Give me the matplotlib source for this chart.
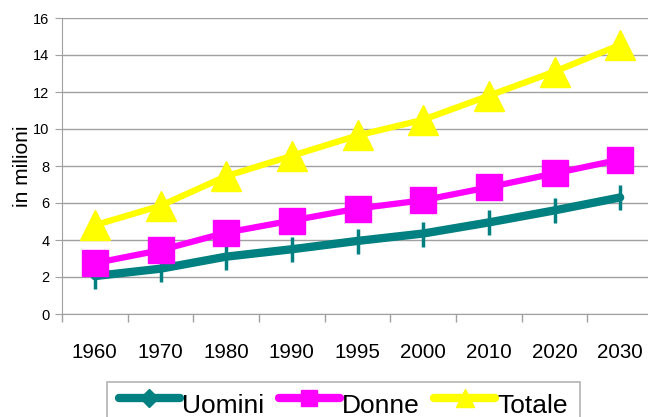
import matplotlib
matplotlib.use("Agg")
import matplotlib.pyplot as plt
from matplotlib.legend_handler import HandlerLine2D
from matplotlib.lines import Line2D
import numpy as np

plt.rcParams['font.family'] = ['Liberation Sans', 'DejaVu Sans']

years = ['1960', '1970', '1980', '1990', '1995', '2000', '2010', '2020', '2030']
uomini = [2.05, 2.45, 3.1, 3.5, 3.95, 4.35, 4.95, 5.6, 6.3]
donne = [2.75, 3.45, 4.4, 5.05, 5.7, 6.15, 6.85, 7.6, 8.35]
totale = [4.8, 5.85, 7.45, 8.55, 9.65, 10.5, 11.8, 13.1, 14.55]

teal, magenta, yellow = '#008080', '#ff00ff', '#ffff00'

fig = plt.figure(figsize=(6.48, 4.17), dpi=100)
ax = fig.add_axes([62/648, 1-314/417, 591/648, 296/417])

x = np.arange(len(years))
ax.plot(x, uomini, color=teal, lw=6, marker='|', ms=18, mew=2.5,
        zorder=3, solid_capstyle='round')
ax.plot(x, donne, color=magenta, lw=4.5, marker='s', ms=19, zorder=4)
ax.plot(x, totale, color=yellow, lw=4.5, marker='^', ms=21, zorder=5)

ax.set_xlim(-0.5, len(years)-0.5)
ax.set_ylim(0, 16)
ax.set_yticks(range(0, 17, 2))
ax.set_xticks(x)
ax.set_xticklabels(years, fontsize=14.8)
ax.set_xticks(np.arange(-0.5, len(years), 1), minor=True)
ax.tick_params(axis='x', which='major', length=0, pad=21)
ax.tick_params(axis='x', which='minor', length=6, color='#a0a0a0', width=1)
ax.tick_params(axis='y', length=5, color='#a0a0a0', labelsize=10.5, pad=4)
ax.grid(axis='y', color='#a0a0a0', lw=1)
ax.set_axisbelow(True)
for s in ['top', 'right']:
    ax.spines[s].set_visible(False)
for s in ['left', 'bottom']:
    ax.spines[s].set_color('#a0a0a0')
ax.set_ylabel('in milioni', fontsize=15, labelpad=1)


class RaisedHandler(HandlerLine2D):
    def create_artists(self, legend, orig_handle, xdescent, ydescent,
                       width, height, fontsize, trans):
        return super().create_artists(legend, orig_handle, xdescent,
                                      ydescent - 8, width, height,
                                      fontsize, trans)


handles = [
    Line2D([], [], color=teal, lw=6, marker='D', ms=9, solid_capstyle='round'),
    Line2D([], [], color=magenta, lw=6, marker='s', ms=12, solid_capstyle='round'),
    Line2D([], [], color=yellow, lw=6, marker='^', ms=13, solid_capstyle='round'),
]
labels = ['Uomini', 'Donne', 'Totale']
h = RaisedHandler(numpoints=1)
leg = fig.legend(handles, labels, loc='upper left',
                 bbox_to_anchor=(107/648, 1-382/417), ncol=3,
                 fontsize=19, frameon=True, fancybox=False, edgecolor='#a0a0a0',
                 handlelength=2.3, handletextpad=0.1, columnspacing=0.55,
                 borderpad=0.45, borderaxespad=0,
                 handler_map={Line2D: h})
leg.get_frame().set_linewidth(1.2)

fig.savefig('out.png', dpi=100)
